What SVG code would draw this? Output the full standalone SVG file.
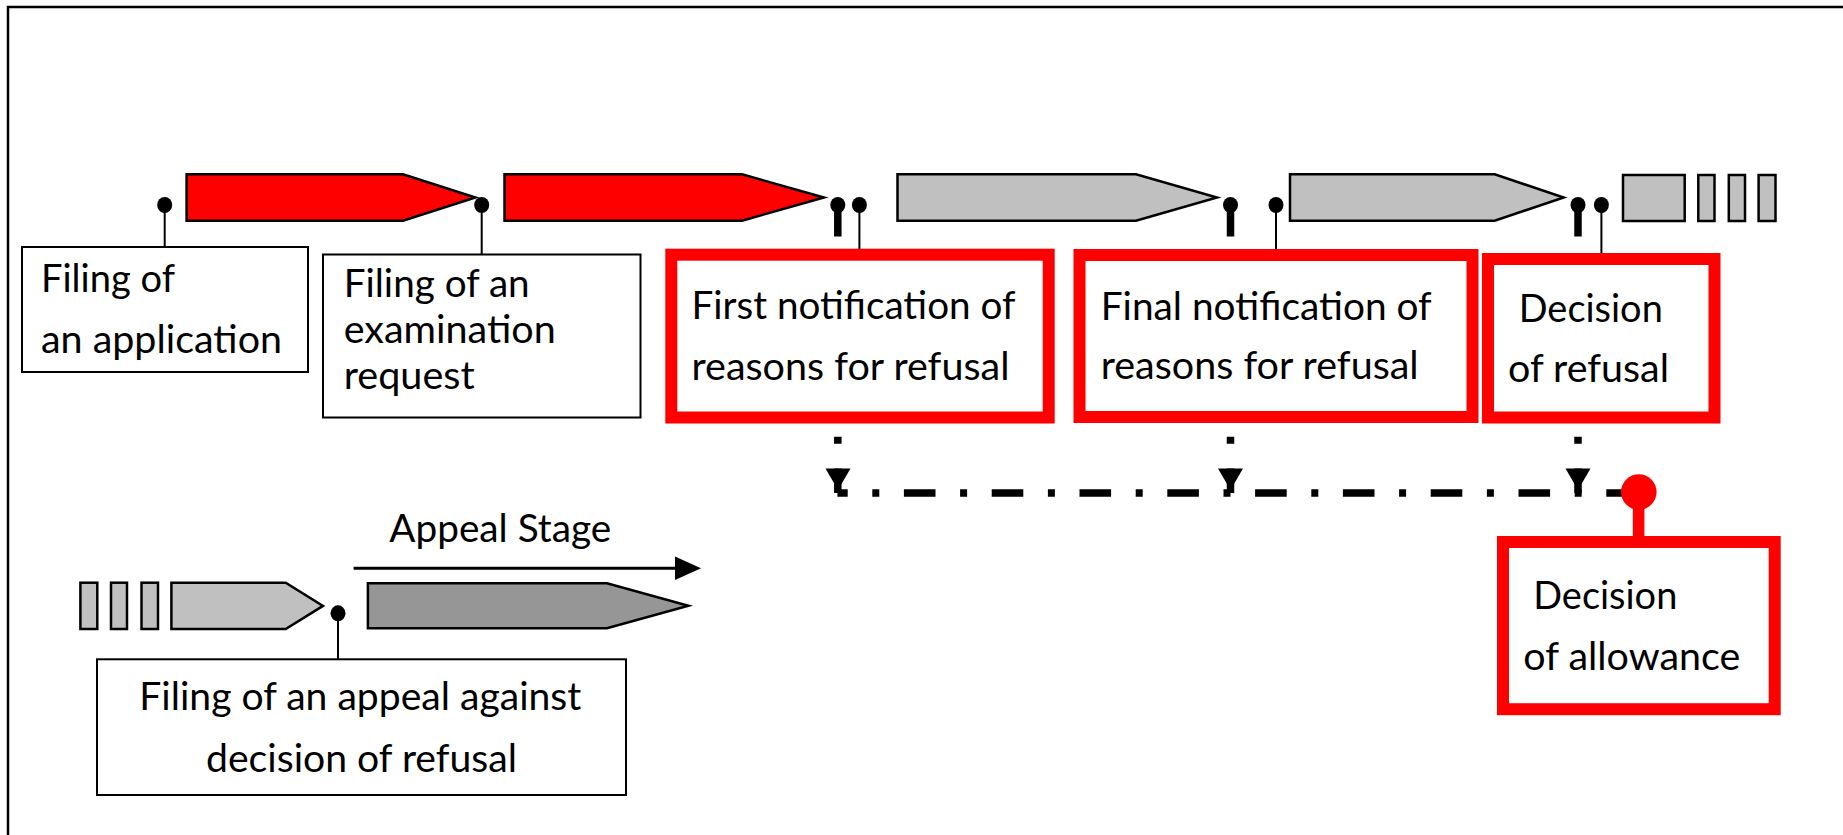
<svg xmlns="http://www.w3.org/2000/svg" xmlns:xlink="http://www.w3.org/1999/xlink" width="1843" height="835" viewBox="0 0 1843 835">
  <style>
    .t { font-family: Lato, "Open Sans", "Liberation Sans", sans-serif; font-size: 38px; fill: #000; }
    .bbox { fill: #fff; stroke: #000; stroke-width: 2; }
    .rbox { fill: #fff; stroke: #ff0000; stroke-width: 12; }
    .red { fill: #ff0000; stroke: #000; stroke-width: 2.5; }
    .gray { fill: #c0c0c0; stroke: #000; stroke-width: 2.5; }
    .dgray { fill: #969696; stroke: #000; stroke-width: 2.5; }
    .thin { stroke: #000; stroke-width: 2; fill: none; }
    .dd { stroke: #000; stroke-width: 7.5; fill: none; stroke-dasharray: 31.6 24.6 7 24.6; }
  </style>
  <defs>
    <marker id="dot" markerUnits="userSpaceOnUse" viewBox="-9 -9 18 18" markerWidth="18" markerHeight="18" refX="0" refY="0">
      <ellipse rx="7.5" ry="8" fill="#000"/>
    </marker>
    <marker id="arr" markerUnits="userSpaceOnUse" viewBox="0 -12 26 24" markerWidth="26" markerHeight="24" refX="15" refY="0" orient="auto" overflow="visible">
      <path d="M0,-11.7 L26,0 L0,11.7 Z" fill="#000"/>
    </marker>
    <path id="ahead" d="M-12.5,0 L12.5,0 L0,21.5 Z" fill="#000"/>
  </defs>

  <rect width="1843" height="835" fill="#fff"/>
  <path d="M8,835 V7 H1843" fill="none" stroke="#000" stroke-width="2.5"/>

  <g id="timeline">
    <path class="red" d="M186.6,174.3 H403 L475.4,197.5 L403,220.7 H186.6 Z"/>
    <path class="red" d="M504.5,174.3 H742 L824,197.5 L742,220.7 H504.5 Z"/>
    <path class="gray" d="M897.5,174.3 H1136 L1217,197.5 L1136,220.7 H897.5 Z"/>
    <path class="gray" d="M1290,174.3 H1494.7 L1563.7,197.5 L1494.7,220.7 H1290 Z"/>
    <rect class="gray" x="1623" y="175" width="61.7" height="46"/>
    <rect class="gray" x="1698.3" y="175" width="16.2" height="46"/>
    <rect class="gray" x="1728.8" y="175" width="16.2" height="46"/>
    <rect class="gray" x="1758.6" y="175" width="16.9" height="46"/>
  </g>

  <g id="appeal-timeline">
    <rect class="gray" x="80.4" y="582.7" width="16.9" height="46.3"/>
    <rect class="gray" x="111" y="582.7" width="16" height="46.3"/>
    <rect class="gray" x="141.5" y="582.7" width="16.5" height="46.3"/>
    <path class="gray" d="M171.4,582.7 H285.7 L323,605.9 L285.7,629 H171.4 Z"/>
    <path class="dgray" d="M367.9,583.3 H607 L688.4,605.8 L607,628.3 H367.9 Z"/>
  </g>

  <g id="connectors">
    <line class="thin" x1="164.7" y1="205" x2="164.7" y2="248" marker-start="url(#dot)"/>
    <line class="thin" x1="481.7" y1="205" x2="481.7" y2="255" marker-start="url(#dot)"/>
    <line class="thin" x1="859.4" y1="205" x2="859.4" y2="255" marker-start="url(#dot)"/>
    <line class="thin" x1="1276" y1="205" x2="1276" y2="255" marker-start="url(#dot)"/>
    <line class="thin" x1="1601.4" y1="205" x2="1601.4" y2="259" marker-start="url(#dot)"/>
    <line class="thin" x1="338" y1="613.3" x2="338" y2="660" marker-start="url(#dot)"/>

    <line class="dd" x1="837.8" y1="205" x2="837.8" y2="493" marker-start="url(#dot)"/>
    <line class="dd" x1="1230.5" y1="205" x2="1230.5" y2="493" marker-start="url(#dot)"/>
    <line class="dd" x1="1578" y1="205" x2="1578" y2="493" marker-start="url(#dot)"/>
    <use xlink:href="#ahead" href="#ahead" x="838" y="468.5"/>
    <use xlink:href="#ahead" href="#ahead" x="1230.5" y="468.5"/>
    <use xlink:href="#ahead" href="#ahead" x="1578" y="468.5"/>
    <line class="dd" x1="837.4" y1="493" x2="1632" y2="493" stroke-dashoffset="21.3"/>

    <line x1="1638.6" y1="492" x2="1638.6" y2="540" stroke="#ff0000" stroke-width="11.6"/>
    <circle cx="1638.8" cy="492" r="17.8" fill="#ff0000"/>

    <line x1="353.6" y1="568.3" x2="690" y2="568.3" stroke="#000" stroke-width="3" marker-end="url(#arr)"/>
  </g>

  <g id="filing-application">
    <rect class="bbox" x="22" y="247" width="286" height="125"/>
    <text class="t" x="41" y="291.7" textLength="134" lengthAdjust="spacingAndGlyphs">Filing of</text>
    <text class="t" x="41" y="353.3" textLength="241" lengthAdjust="spacingAndGlyphs">an application</text>
  </g>

  <g id="filing-exam-request">
    <rect class="bbox" x="323" y="254.5" width="317.5" height="163"/>
    <text class="t" x="343.7" y="296.7" textLength="186" lengthAdjust="spacingAndGlyphs">Filing of an</text>
    <text class="t" x="343.7" y="343.3" textLength="212" lengthAdjust="spacingAndGlyphs">examination</text>
    <text class="t" x="343.7" y="389.3" textLength="131" lengthAdjust="spacingAndGlyphs">request</text>
  </g>

  <g id="first-notification">
    <rect class="rbox" x="671.3" y="254.7" width="377.4" height="162.8"/>
    <text class="t" x="691.5" y="319.3" textLength="324" lengthAdjust="spacingAndGlyphs">First notification of</text>
    <text class="t" x="691.5" y="380" textLength="318" lengthAdjust="spacingAndGlyphs">reasons for refusal</text>
  </g>

  <g id="final-notification">
    <rect class="rbox" x="1079.5" y="255" width="393" height="162"/>
    <text class="t" x="1100.7" y="320" textLength="331" lengthAdjust="spacingAndGlyphs">Final notification of</text>
    <text class="t" x="1100.7" y="379.3" textLength="318" lengthAdjust="spacingAndGlyphs">reasons for refusal</text>
  </g>

  <g id="decision-refusal">
    <rect class="rbox" x="1488" y="259" width="226.5" height="158.5"/>
    <text class="t" x="1518.8" y="321.7" textLength="144" lengthAdjust="spacingAndGlyphs">Decision</text>
    <text class="t" x="1508" y="381.7" textLength="161" lengthAdjust="spacingAndGlyphs">of refusal</text>
  </g>

  <g id="decision-allowance">
    <rect class="rbox" x="1503" y="542" width="271.7" height="167.2"/>
    <text class="t" x="1533.3" y="609.3" textLength="144" lengthAdjust="spacingAndGlyphs">Decision</text>
    <text class="t" x="1523.3" y="670" textLength="217" lengthAdjust="spacingAndGlyphs">of allowance</text>
  </g>

  <g id="appeal-stage-label">
    <text class="t" x="389.3" y="541.7" textLength="222" lengthAdjust="spacingAndGlyphs">Appeal Stage</text>
  </g>

  <g id="filing-appeal">
    <rect class="bbox" x="97" y="659.3" width="529" height="135.7"/>
    <text class="t" x="139.3" y="710" textLength="442" lengthAdjust="spacingAndGlyphs">Filing of an appeal against</text>
    <text class="t" x="206" y="771.7" textLength="311" lengthAdjust="spacingAndGlyphs">decision of refusal</text>
  </g>
</svg>
